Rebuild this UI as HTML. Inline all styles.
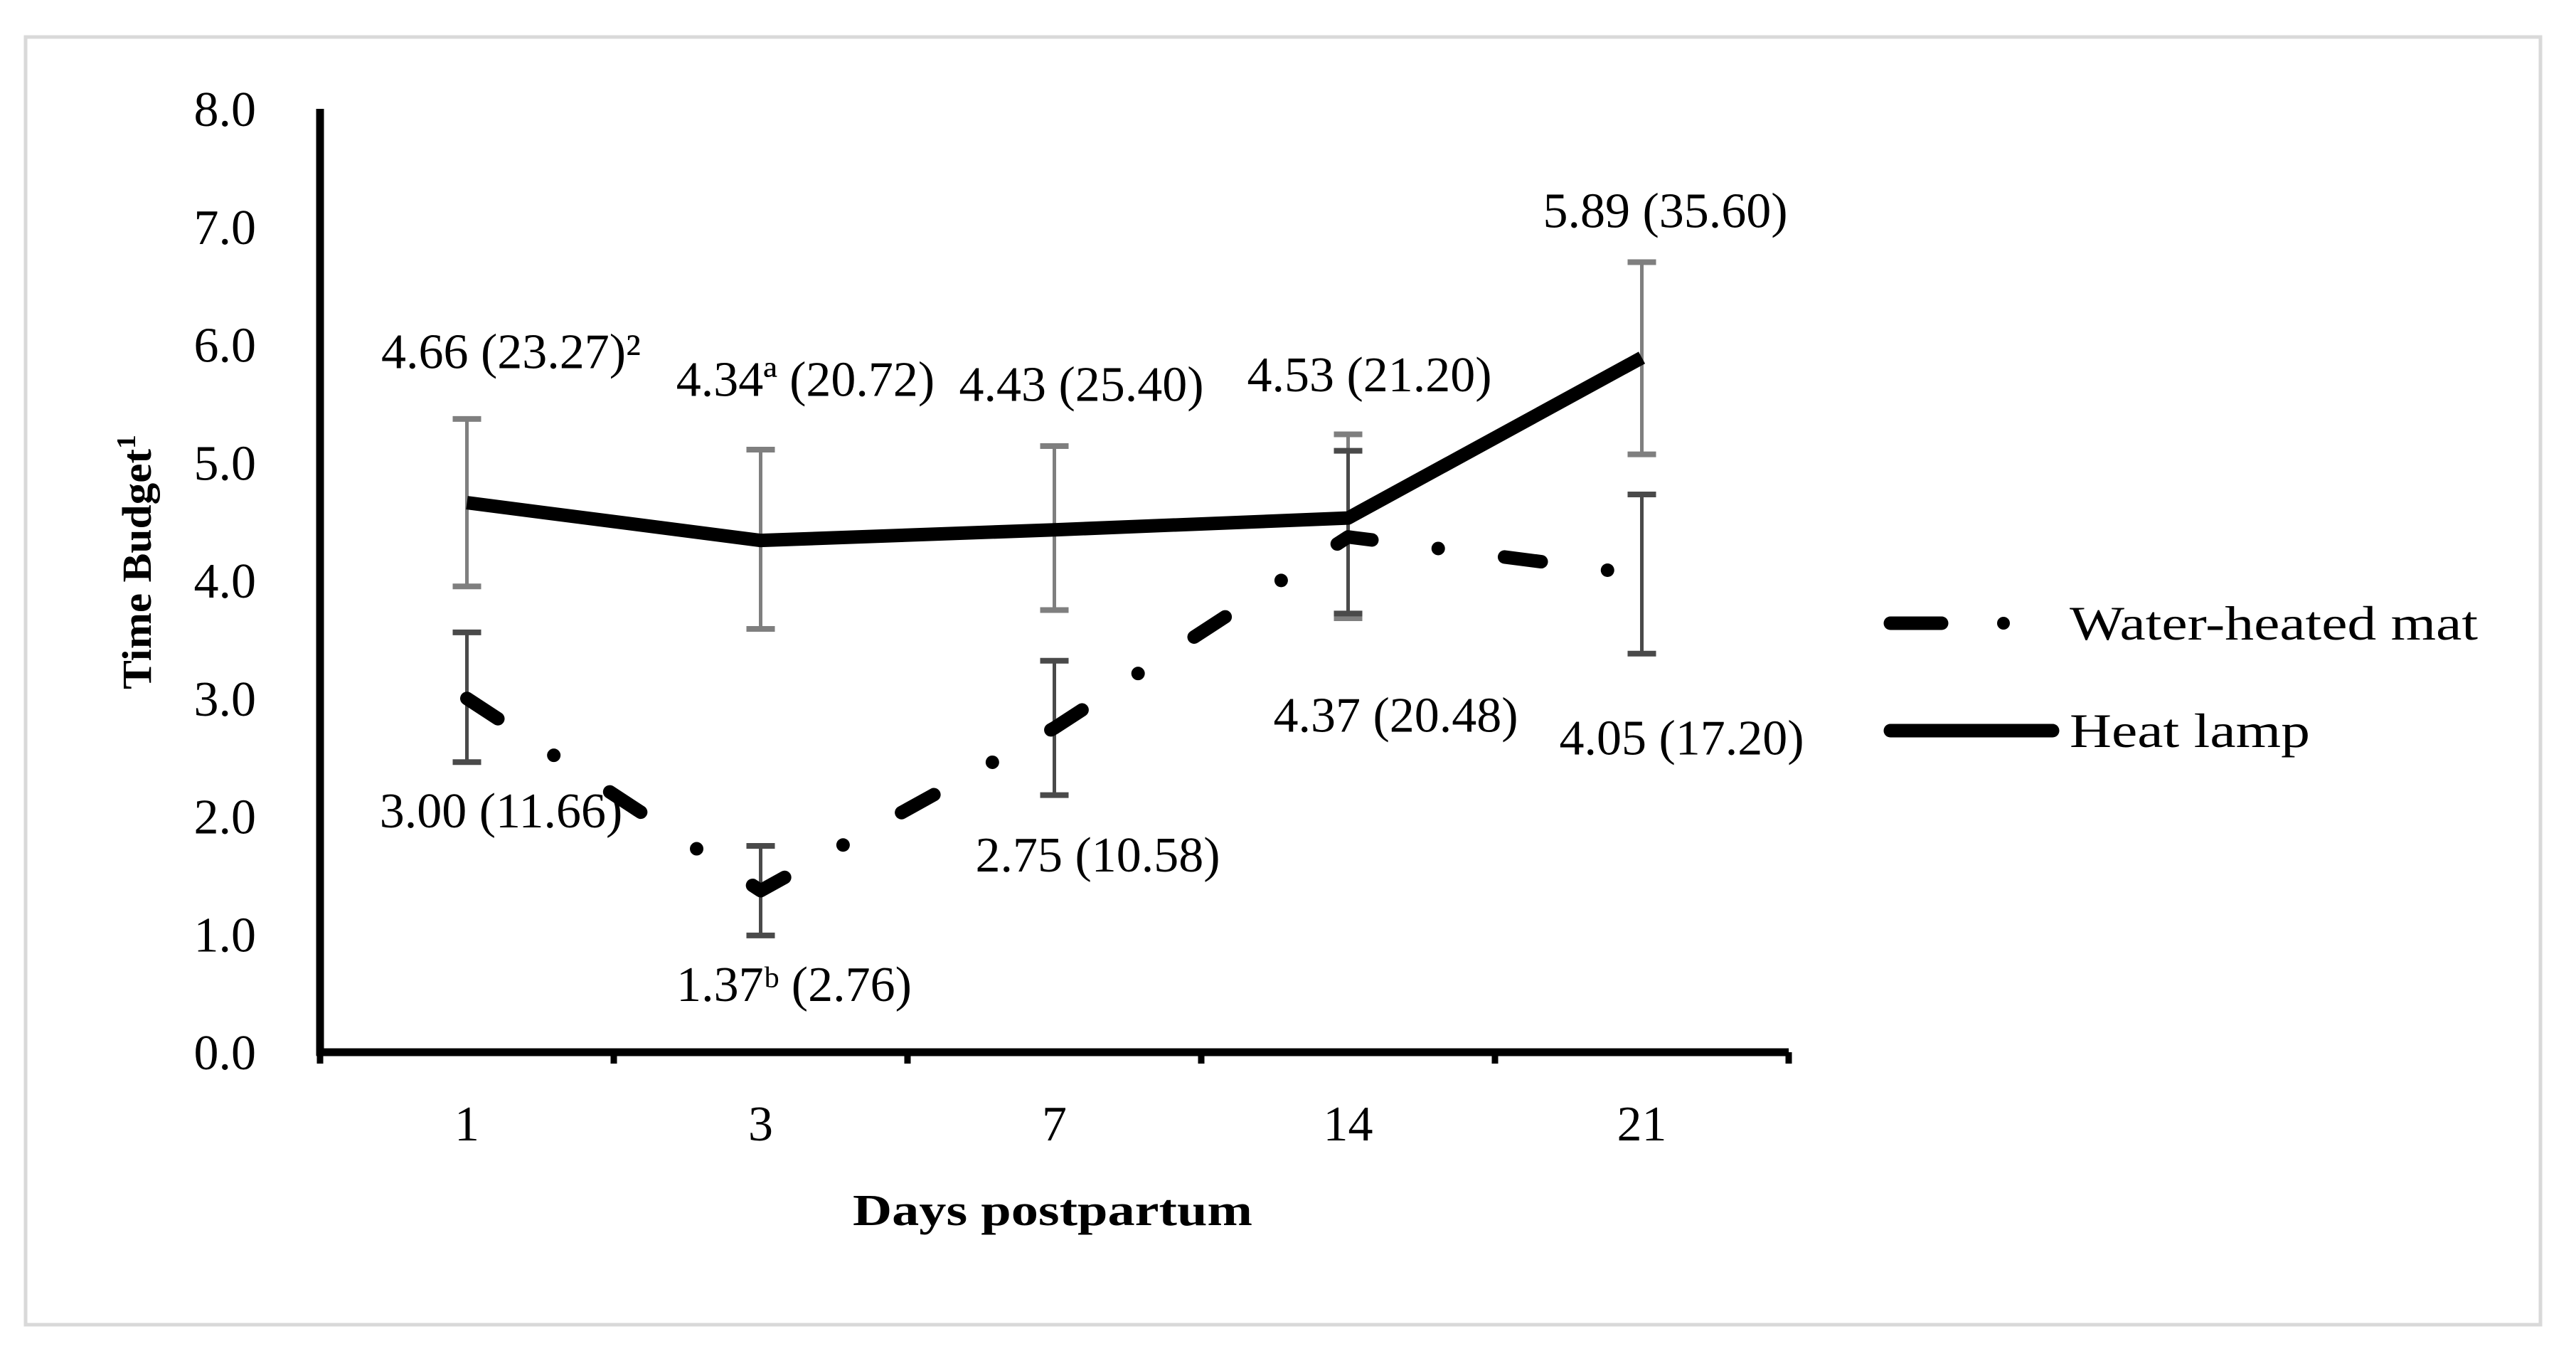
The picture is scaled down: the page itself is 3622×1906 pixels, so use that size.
<!DOCTYPE html>
<html><head><meta charset="utf-8"><style>
html,body{margin:0;padding:0;background:#fff;}
svg{display:block;}
text{font-family:"Liberation Serif",serif;fill:#000;}
</style></head><body>
<svg id="chart" width="3622" height="1906" viewBox="0 0 3622 1906" xmlns="http://www.w3.org/2000/svg">
<rect x="36" y="52" width="3536" height="1810" fill="#fff" stroke="#d9d9d9" stroke-width="5"/>
<g id="axes"></g>
<g id="series"></g>
<g id="labels"></g>
<text x="0" y="0" transform="translate(212,790) rotate(-90)" text-anchor="middle" font-size="58" font-weight="bold" textLength="358" lengthAdjust="spacingAndGlyphs">Time Budget<tspan font-size="38" dy="-22">1</tspan></text>
<text x="1480" y="1722" text-anchor="middle" font-size="62" font-weight="bold" textLength="562" lengthAdjust="spacingAndGlyphs">Days postpartum</text>
<g>
<g>
<line x1="2658" y1="876" x2="2730" y2="876" stroke="#000" stroke-width="19" stroke-linecap="round"/>
<circle cx="2817" cy="876" r="9" fill="#000"/>
<text x="2910" y="899" font-size="68" textLength="574" lengthAdjust="spacingAndGlyphs">Water-heated mat</text>
</g>
<g>
<line x1="2658" y1="1027" x2="2886" y2="1027" stroke="#000" stroke-width="19" stroke-linecap="round"/>
<text x="2910" y="1050" font-size="68" textLength="338" lengthAdjust="spacingAndGlyphs">Heat lamp</text>
</g>
</g>
</svg>
<script>
const categories = ["1","3","7","14","21"];
const yTicks = [0,1,2,3,4,5,6,7,8];
const yTickLabels = ["0.0","1.0","2.0","3.0","4.0","5.0","6.0","7.0","8.0"];
const heatLamp = [4.66,4.34,4.43,4.53,5.89];
const heatLampLow = [3.95,3.59,3.75,3.68,5.07];
const heatLampHigh = [5.37,5.11,5.14,5.24,6.70];
const waterMat = [3.00,1.37,2.75,4.37,4.05];
const waterMatLow = [2.46,0.99,2.18,3.72,3.38];
const waterMatHigh = [3.56,1.75,3.32,5.10,4.73];
const heatLampLabels = ["4.66 (23.27)²","4.34ª (20.72)","4.43 (25.40)","4.53 (21.20)","5.89 (35.60)"];
const waterMatLabels = ["3.00 (11.66)","1.37ᵇ (2.76)","2.75 (10.58)","4.37 (20.48)","4.05 (17.20)"];

const NS="http://www.w3.org/2000/svg";
const X0=450,X1=2515,Y0=1479,YT=153,YMAX=8;
const bw=(X1-X0)/categories.length;
function xS(i){return X0+bw*(i+0.5);}
function yS(v){return Y0-(v/YMAX)*(Y0-YT);}
function mk(tag,attrs,parent){const e=document.createElementNS(NS,tag);for(const k in attrs)e.setAttribute(k,attrs[k]);parent.appendChild(e);return e;}
const axes=document.getElementById('axes'),series=document.getElementById('series'),labels=document.getElementById('labels');

let e=mk('line',{x1:X0,y1:YT,x2:X0,y2:Y0+5,stroke:'#000','stroke-width':11},axes);


e=mk('line',{x1:X0-5,y1:Y0,x2:X1,y2:Y0,stroke:'#000','stroke-width':11},axes);


for(let i=0;i<=categories.length;i++){
  e=mk('line',{x1:X0+bw*i,y1:Y0,x2:X0+bw*i,y2:Y0+16,stroke:'#000','stroke-width':9},axes);
  
  
}
yTicks.forEach((v,i)=>{
  const t=mk('text',{x:360,y:yS(v)+24,'text-anchor':'end','font-size':70},axes);
  t.textContent=yTickLabels[i];
  
  
});
categories.forEach((c,i)=>{
  const t=mk('text',{x:xS(i),y:1603,'text-anchor':'middle','font-size':70},axes);
  t.textContent=c;
  
  
});

function errBars(lo,hi,color,name){
  lo.forEach((l,i)=>{
    const g=mk('g',{stroke:color,'stroke-width':5},series);
    
    
    const x=xS(i);
    mk('line',{x1:x,y1:yS(l),x2:x,y2:yS(hi[i])},g);
    mk('line',{x1:x-20,y1:yS(l),x2:x+20,y2:yS(l),'stroke-width':8},g);
    mk('line',{x1:x-20,y1:yS(hi[i]),x2:x+20,y2:yS(hi[i]),'stroke-width':8},g);
  });
}
errBars(heatLampLow,heatLampHigh,'#7f7f7f','heat-lamp-error-bar');
errBars(waterMatLow,waterMatHigh,'#4a4a4a','water-mat-error-bar');

const wmPts=waterMat.map((v,i)=>xS(i)+','+yS(v)).join(' ');
e=mk('polyline',{points:wmPts,fill:'none',stroke:'#000','stroke-width':19,'stroke-linecap':'round','stroke-dasharray':'52 94 0 94','stroke-linejoin':'round'},series);


const hlPts=heatLamp.map((v,i)=>xS(i)+','+yS(v)).join(' ');
e=mk('polyline',{points:hlPts,fill:'none',stroke:'#000','stroke-width':19,'stroke-linejoin':'round'},series);



const hlOff=[[62,-189],[63,-203],[38,-181],[30,-178],[33,-183]];
const wmOff=[[48,181],[47,155],[61,202],[67,274],[56,253]];
function addLabels(arr,vals,off,name){
  arr.forEach((s,i)=>{
    const t=mk('text',{x:xS(i)+off[i][0],y:yS(vals[i])+off[i][1],'text-anchor':'middle','font-size':70},labels);
    t.textContent=s;
    
    
  });
}
addLabels(heatLampLabels,heatLamp,hlOff,'heat-lamp-value-label');
addLabels(waterMatLabels,waterMat,wmOff,'water-mat-value-label');
</script>
</body></html>
